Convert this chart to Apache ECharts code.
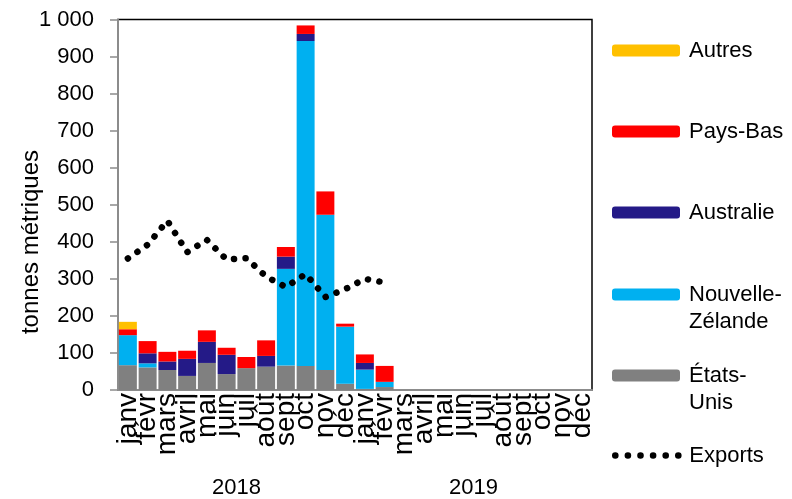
<!DOCTYPE html>
<html>
<head>
<meta charset="utf-8">
<script src="https://cdn.jsdelivr.net/npm/echarts@6/dist/echarts.min.js"></script>
<style>html,body{margin:0;padding:0;background:#fff}#c{width:792px;height:499px}</style>
</head>
<body>
<div id="c"></div>
<script>
const months = ['janv','févr','mars','avril','mai','juin','juil','août','sept','oct','nov','déc',
                'janv','févr','mars','avril','mai','juin','juil','août','sept','oct','nov','déc'];
const years = ['2018','2019'];
const etatsUnis = [67,61,54,38,73,43,59,63,66,65,54,17, 3,8, 0,0,0,0,0,0,0,0,0,0];
const nouvelleZelande = [81,11,0,0,0,0,0,0,261,877,419,154, 52,14, 0,0,0,0,0,0,0,0,0,0];
const australie = [0,27,23,46,57,52,0,29,33,19,0,0, 18,0, 0,0,0,0,0,0,0,0,0,0];
const paysBas = [16,33,26,22,31,19,30,42,26,23,63,8, 23,43, 0,0,0,0,0,0,0,0,0,0];
const autres = [20,0,0,0,0,0,0,0,0,0,0,0, 0,0, 0,0,0,0,0,0,0,0,0,0];
const exportsData = [355,392,457,372,405,352,356,306,278,313,251,272, 300,290];
const yTicks = {min:0, max:1000, interval:100};

const FONT = 'Liberation Sans, Arial, sans-serif';
const chart = echarts.init(document.getElementById('c'), null, {renderer:'canvas'});

function bar(name, data, color){
  return {name, type:'bar', stack:'t', data, barCategoryGap:'9%',
    itemStyle:{color}, emphasis:{disabled:true}, xAxisIndex:0, yAxisIndex:0};
}
const legText = {fontFamily:FONT, fontSize:22, color:'#000', lineHeight:27, padding:[0,0,0,4]};
function leg(name, top, extra){
  return Object.assign({
    data:[name], left:612, top, orient:'vertical', padding:0,
    itemWidth:68, itemHeight:12, selectedMode:false,
    textStyle:legText
  }, extra||{});
}

chart.setOption({
  animation:false,
  textStyle:{fontFamily:FONT},
  grid:{left:118, top:19.5, right:200, bottom:109, show:true, borderColor:'#000', borderWidth:1.5, backgroundColor:'transparent'},
  legend:[
    leg('Autres', 37),
    leg('Pays-Bas', 118),
    leg('Australie', 199),
    leg('Nouvelle-Zélande', 254, {formatter:()=> '\nNouvelle-\nZélande'}),
    leg('États-Unis', 335, {formatter:()=> '\nÉtats-\nUnis'}),
    leg('Exports', 442, {itemStyle:{opacity:0},
      textStyle:{fontFamily:FONT, fontSize:22, color:'#000', lineHeight:27, padding:[0,0,0,1]},
      lineStyle:{color:'#000', width:6.5, type:[0.1,12.5], cap:'round'}})
  ],
  xAxis:[
    {type:'category', data:months, position:'bottom',
      axisLine:{lineStyle:{color:'#8c8c8c', width:2}},
      axisTick:{length:70, lineStyle:{color:'#a6a6a6', width:1.5}},
      axisLabel:{rotate:90, interval:0, fontSize:28, color:'#000', margin:3, fontFamily:FONT}},
    {type:'category', data:years, position:'bottom',
      axisLine:{show:false},
      axisTick:{length:109, lineStyle:{color:'#a6a6a6', width:1.5}},
      axisLabel:{fontSize:22, color:'#000', margin:87, fontFamily:FONT}}
  ],
  yAxis:{type:'value', min:yTicks.min, max:yTicks.max, interval:yTicks.interval,
    splitLine:{show:false},
    axisLine:{show:true, lineStyle:{color:'#8c8c8c', width:2}},
    axisTick:{show:true, length:8, lineStyle:{color:'#8c8c8c', width:1.5}},
    axisLabel:{fontSize:22, color:'#000', margin:24, fontFamily:FONT,
      formatter:v=> v>=1000 ? String(v).replace(/\B(?=(\d{3})+(?!\d))/g,' ') : String(v)}},
  graphic:[{type:'text', x:31, y:242, rotation:Math.PI/2,
    style:{text:'tonnes métriques', fontSize:24, fontFamily:FONT, fill:'#000', align:'center', verticalAlign:'middle'}}],
  series:[
    bar('États-Unis', etatsUnis, '#808080'),
    bar('Nouvelle-Zélande', nouvelleZelande, '#00B0F0'),
    bar('Australie', australie, '#241A87'),
    bar('Pays-Bas', paysBas, '#FF0000'),
    bar('Autres', autres, '#FFC000'),
    {name:'Exports', type:'line', data:exportsData, symbol:'none', z:10,
      itemStyle:{color:'#000'},
      lineStyle:{color:'#000', width:6.5, type:[0.1,11.5], cap:'round'},
      emphasis:{disabled:true}}
  ]
});
</script>
</body>
</html>
